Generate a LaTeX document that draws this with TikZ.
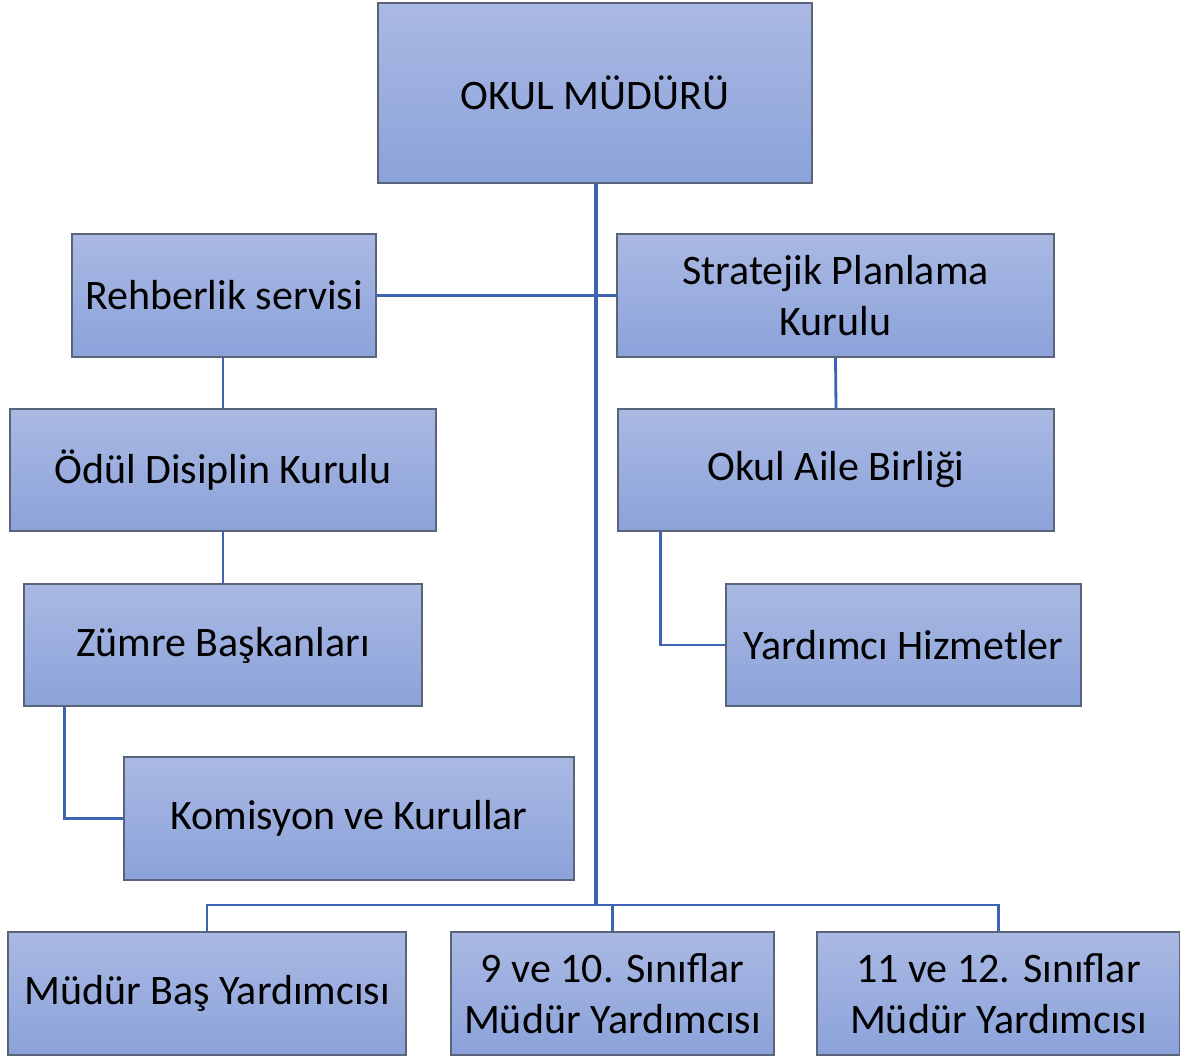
\documentclass[tikz,border=0pt]{standalone}
\usepackage{fontspec}
\setmainfont{Carlito}
\usetikzlibrary{positioning,calc}
\definecolor{boxtop}{HTML}{AAB9E3}
\definecolor{boxbot}{HTML}{8BA2DA}
\definecolor{boxline}{HTML}{5A6479}
\definecolor{linkblue}{HTML}{3E63B4}
\tikzset{
  box/.style={draw=boxline,line width=1.3pt,top color=boxtop,bottom color=boxbot,align=center,inner sep=2pt,
    font=\fontsize{42}{51}\selectfont,text=black},
  link/.style={draw=linkblue,line width=2.8pt},
  trunk/.style={link,line width=3.6pt}
}
\begin{document}
\begin{tikzpicture}[x=1pt,y=-1pt]
\useasboundingbox (0,0) rectangle (1180,1057);
% top
\node[box,minimum width=434pt,minimum height=180pt] (mudur) at (595,93) {OKUL MÜDÜRÜ};
% left column
\node[box,minimum width=304pt,minimum height=123pt] (rehber) at (224,295.5) {Rehberlik servisi};
\node[box,minimum width=426pt,minimum height=122pt] (odul) at (223,470) {Ödül Disiplin Kurulu};
\node[box,minimum width=398pt,minimum height=122pt] (zumre) at (223,645) {Zümre Başkanları};
\node[box,minimum width=450pt,minimum height=123pt] (komisyon) at (349,818.5) {Komisyon ve Kurullar};
% right column
\node[box,minimum width=437pt,minimum height=123pt] (strateji) at (835.5,295.5) {Stratejik Planlama\\Kurulu};
\node[box,minimum width=436pt,minimum height=122pt] (aile) at (836,470) {Okul Aile Birliği};
\node[box,minimum width=355pt,minimum height=122pt] (yardimci) at (903.5,645) {Yardımcı Hizmetler};
% bottom row
\node[box,minimum width=398pt,minimum height=123pt] (basyrd) at (207,993.5) {Müdür Baş Yardımcısı};
\node[box,minimum width=323pt,minimum height=123pt] (yrd910) at (612.5,993.5) {9 ve 10. Sınıflar\\Müdür Yardımcısı};
\node[box,minimum width=363pt,minimum height=123pt] (yrd1112) at (998.5,993.5) {11 ve 12. Sınıflar\\Müdür Yardımcısı};
% connectors
\coordinate (bus) at (596,905);
\draw[trunk] (mudur.south -| bus) -- (bus);
\draw[link] (rehber.east) -- (strateji.west);
\draw[link] (rehber.south -| odul.north) -- (odul.north);
\draw[link] (odul.south) -- (zumre.north);
\draw[link] ([xshift=41pt]zumre.south west) |- (komisyon.west);
\draw[link] (strateji.south) -- (aile.north);
\draw[link] ([xshift=43pt]aile.south west) |- (yardimci.west);
\draw[link] (basyrd.north) |- (bus) -| (yrd1112.north);
\draw[link] (yrd910.north) -- (yrd910.north |- bus);
\end{tikzpicture}
\end{document}
